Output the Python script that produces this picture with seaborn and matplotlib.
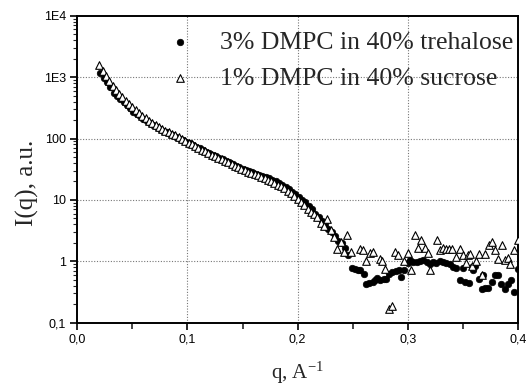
import numpy as np
import pandas as pd
import matplotlib
matplotlib.use("Agg")
import matplotlib.pyplot as plt
import matplotlib.ticker as mticker
import seaborn as sns

# ---- data ----
q_treh = [0.021, 0.024, 0.027, 0.030, 0.033, 0.036, 0.039, 0.042, 0.045, 0.048,
          0.051, 0.054, 0.057, 0.060, 0.063, 0.066, 0.069, 0.072, 0.075, 0.078,
          0.081, 0.084, 0.087, 0.090, 0.093, 0.096, 0.099, 0.102, 0.105, 0.108,
          0.111, 0.114, 0.117, 0.120, 0.123, 0.126, 0.129, 0.132, 0.135, 0.138,
          0.141, 0.144, 0.147, 0.150, 0.153, 0.156, 0.159, 0.162, 0.165, 0.168,
          0.171, 0.174, 0.177, 0.180, 0.183, 0.186, 0.189, 0.192, 0.195, 0.198,
          0.201, 0.204, 0.207, 0.210, 0.213, 0.216, 0.219, 0.222, 0.225, 0.228,
          0.231, 0.234, 0.237, 0.240, 0.243, 0.246,
          0.249, 0.252, 0.255, 0.257, 0.260, 0.262, 0.265, 0.268, 0.270, 0.272,
          0.275, 0.278, 0.280, 0.283, 0.286, 0.289, 0.292, 0.294, 0.297, 0.300,
          0.302, 0.305, 0.308, 0.311, 0.314, 0.317, 0.320, 0.323, 0.326, 0.329,
          0.332, 0.335, 0.338, 0.341, 0.344, 0.347, 0.350, 0.352, 0.356, 0.358,
          0.359, 0.361, 0.365, 0.367, 0.368, 0.370, 0.373, 0.376, 0.379, 0.382,
          0.385, 0.388, 0.391, 0.394, 0.396, 0.400]
I_treh = [1160, 977, 832, 692, 550, 490, 437, 389, 347, 309,
          275, 251, 229, 209, 191, 178, 166, 155, 145, 135,
          126, 117, 112, 105, 98, 93, 87, 83, 78, 72,
          69, 65, 60, 58, 54, 51, 48, 46, 43, 41,
          38, 36, 34, 32, 31, 29.5, 28.2, 26.9, 25.7, 24.5,
          23.4, 22.4, 20.9, 20.0, 18.6, 17.4, 16.2, 14.8, 13.5, 12.3,
          11.0, 10.0, 9.1, 8.1, 7.1, 6.0, 5.2, 4.6, 4.0, 3.4,
          2.95, 2.57, 2.14, 1.95, 1.66, 1.29,
          0.79, 0.76, 0.71, 0.71, 0.63, 0.43, 0.44, 0.46, 0.50, 0.54,
          0.49, 0.52, 0.52, 0.61, 0.67, 0.70, 0.73, 0.56, 0.73, 0.94,
          1.06, 0.98, 0.98, 1.01, 1.04, 0.98, 0.92, 0.98, 0.94, 1.01,
          0.98, 0.94, 0.92, 0.81, 0.79, 0.50, 0.79, 0.46, 0.44, 0.81,
          0.71, 0.83, 0.52, 0.36, 0.59, 0.37, 0.37, 0.46, 0.59, 0.59,
          0.43, 0.36, 0.43, 0.50, 0.32, 0.76]

q_sucr = [0.020, 0.023, 0.026, 0.029, 0.032, 0.035, 0.038, 0.041, 0.044, 0.047,
          0.050, 0.053, 0.056, 0.059, 0.062, 0.065, 0.068, 0.071, 0.074, 0.077,
          0.080, 0.083, 0.086, 0.089, 0.092, 0.095, 0.098, 0.101, 0.104, 0.107,
          0.110, 0.113, 0.116, 0.119, 0.122, 0.125, 0.128, 0.131, 0.134, 0.137,
          0.140, 0.143, 0.146, 0.149, 0.152, 0.155, 0.158, 0.161, 0.164, 0.167,
          0.170, 0.173, 0.176, 0.179, 0.182, 0.185, 0.188, 0.191, 0.194, 0.197,
          0.200, 0.203, 0.206, 0.209, 0.212, 0.215, 0.218, 0.221, 0.224, 0.227,
          0.230, 0.233, 0.236, 0.239, 0.242, 0.245, 0.248,
          0.2565, 0.2595, 0.2625, 0.2656, 0.2686, 0.2747, 0.2768, 0.2792, 0.2828, 0.2858,
          0.2883, 0.2910, 0.2970, 0.3001, 0.3031, 0.3061, 0.3092, 0.3122, 0.3152, 0.3182,
          0.3206, 0.3261, 0.3291, 0.3315, 0.3345, 0.3370, 0.3397, 0.3442, 0.3473, 0.3503,
          0.3527, 0.3545, 0.3563, 0.3587, 0.3618, 0.3648, 0.3678, 0.3699, 0.3739, 0.3760,
          0.3790, 0.3820, 0.3851, 0.3881, 0.3911, 0.3932, 0.3963, 0.3996]
I_sucr = [1550, 1259, 1047, 871, 724, 617, 537, 468, 407, 363,
          324, 288, 263, 234, 214, 195, 182, 166, 155, 145,
          135, 126, 117, 112, 105, 98, 91, 85, 81, 76,
          71, 66, 62, 58, 54, 51, 48, 46, 43, 41,
          38, 36, 34, 32, 31, 28.8, 27.5, 26.3, 25.1, 24.0,
          22.9, 21.4, 20.4, 19.1, 17.8, 16.6, 15.5, 14.1, 12.9, 11.7,
          10.5, 9.1, 8.3, 7.2, 6.3, 5.8, 5.2, 4.2, 3.7, 4.8,
          3.2, 2.5, 1.6, 2.1, 1.41, 2.65, 1.41,
          1.61, 1.51, 1.01, 1.37, 1.42, 1.08, 1.01, 0.76, 0.17, 0.19,
          1.42, 1.25, 1.0, 1.37, 0.73, 2.65, 1.67, 2.26, 1.67, 1.37,
          0.73, 2.26, 1.55, 1.67, 1.61, 1.61, 1.61, 1.17, 1.61, 1.28,
          0.94, 1.25, 1.33, 0.83, 1.01, 1.33, 0.59, 1.30, 1.82, 2.06,
          1.51, 1.10, 1.82, 1.06, 1.15, 0.92, 1.51, 2.26]

label_treh = "3% DMPC in 40% trehalose"
label_sucr = "1% DMPC in 40% sucrose"
x_ticks = [0.0, 0.1, 0.2, 0.3, 0.4]
x_ticklabels = ["0,0", "0,1", "0,2", "0,3", "0,4"]
y_ticks = [0.1, 1, 10, 100, 1000, 10000]
y_ticklabels = ["0,1", "1", "10", "100", "1E3", "1E4"]

df_t = pd.DataFrame({"q": q_treh, "I": I_treh})
df_s = pd.DataFrame({"q": q_sucr, "I": I_sucr})

sns.set_theme(style="ticks")
plt.rcParams["font.family"] = ["Liberation Sans", "DejaVu Sans"]
plt.rcParams["mathtext.fontset"] = "custom"
plt.rcParams["mathtext.rm"] = "Liberation Serif"
plt.rcParams["mathtext.it"] = "Liberation Serif"

fig = plt.figure(figsize=(5.28, 3.90), dpi=100)
ax = fig.add_axes([0.1464, 0.1726, 0.981 - 0.1464, 0.9597 - 0.1726])

sns.scatterplot(data=df_t, x="q", y="I", ax=ax, marker="o", s=22,
                color="black", edgecolor="black", linewidth=0.5,
                label=label_treh, zorder=3)
sns.scatterplot(data=df_s, x="q", y="I", ax=ax, marker="^", s=30,
                facecolor="white", edgecolor="black", linewidth=0.8,
                label=label_sucr, zorder=4)

ax.set_yscale("log")
ax.set_xlim(0.0, 0.4)
ax.set_ylim(0.1, 10000)

ax.set_xticks(x_ticks)
ax.set_xticklabels(x_ticklabels)
ax.xaxis.set_minor_locator(mticker.MultipleLocator(0.05))
ax.set_yticks(y_ticks)
ax.set_yticklabels(y_ticklabels)
ax.yaxis.set_minor_locator(mticker.LogLocator(base=10, subs=np.arange(2, 10), numticks=20))
ax.yaxis.set_minor_formatter(mticker.NullFormatter())

ax.tick_params(axis="both", which="major", direction="out", length=5, width=1.2,
               labelsize=9, colors="black", pad=3)
ax.tick_params(axis="x", which="minor", direction="out", length=4, width=1.2)
ax.tick_params(axis="y", which="minor", direction="out", length=3, width=0.8)
ax.tick_params(top=False, right=False, which="both")

for sp in ax.spines.values():
    sp.set_visible(True)
    sp.set_color("black")
    sp.set_linewidth(1.4)

for xv in [0.1, 0.2, 0.3]:
    ax.axvline(xv, color="#777777", linestyle=(0, (1, 1.5)), linewidth=0.8, zorder=1)
for yv in [1, 10, 100, 1000]:
    ax.axhline(yv, color="#777777", linestyle=(0, (1, 1.5)), linewidth=0.8, zorder=1)

ax.set_xlabel("q, A$^{-1}$", fontsize=15, family=["Liberation Serif"], labelpad=10)
ax.set_ylabel("I(q), a.u.", fontsize=18, family=["Liberation Serif"])
ax.yaxis.set_label_coords(-0.088, 0.455)

leg = ax.legend(loc="upper right", bbox_to_anchor=(1.025, 1.0), frameon=False,
                prop={"family": "Liberation Serif", "size": 18.5},
                handletextpad=0.8, borderaxespad=0.0, borderpad=0.6,
                labelspacing=0.5, handlelength=1.5)

fig.savefig("out.png", dpi=100)
